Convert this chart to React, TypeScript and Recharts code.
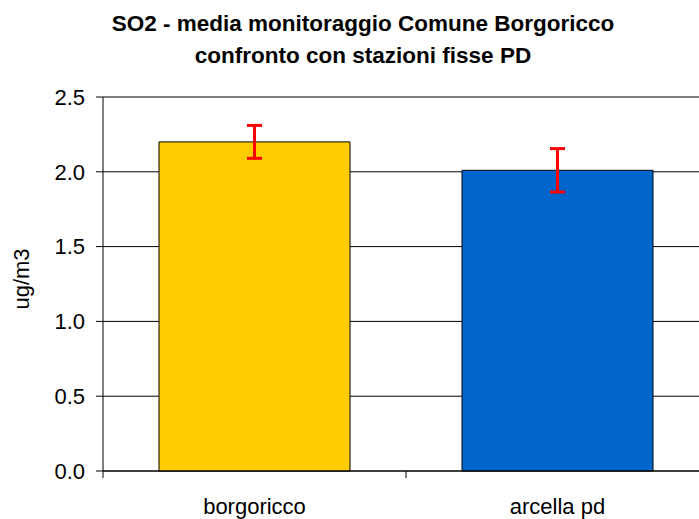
import { BarChart, Bar, Cell, XAxis, YAxis, CartesianGrid, ErrorBar } from "recharts";

const stations = ["borgoricco", "arcella pd"];
const means = [2.2, 2.01];
const errors = [0.11, 0.145];
const yTicks = [0, 0.5, 1.0, 1.5, 2.0, 2.5];

const COLORS = ["#FFCC00", "#0066CC"];
const FONT = "'Liberation Sans', Arial, sans-serif";

const TICK_SIZE = 7;
const X_TICK_MARGIN = 20;

const chartData = stations.map((name, i) => ({
  name,
  value: means[i],
  err: errors[i],
}));

// category label plus a small tick at the left edge of each category band
function CategoryTick(props: any) {
  const { x, y, payload } = props;
  const half = payload?.offset ?? 0;
  const axisY = y - X_TICK_MARGIN - TICK_SIZE;
  return (
    <g>
      <line
        x1={x - half}
        x2={x - half}
        y1={axisY}
        y2={axisY + TICK_SIZE}
        stroke="#000"
      />
      <text
        x={x}
        y={y}
        dy="0.71em"
        textAnchor="middle"
        fill="#000"
        fontSize={22}
        fontFamily={FONT}
      >
        {payload.value}
      </text>
    </g>
  );
}

export default function App() {
  return (
    <div
      style={{
        position: "absolute",
        left: 0,
        top: 0,
        width: 699,
        height: 519,
        overflow: "hidden",
        background: "#fff",
      }}
    >
      <BarChart
        width={720}
        height={519}
        data={chartData}
        margin={{ top: 97, right: 11, bottom: 0, left: 0 }}
      >
        <CartesianGrid vertical={false} stroke="#000" />
        <XAxis
          dataKey="name"
          height={48}
          axisLine={{ stroke: "#000" }}
          tickLine={false}
          tickSize={TICK_SIZE}
          tickMargin={X_TICK_MARGIN}
          tick={<CategoryTick />}
          interval={0}
        />
        <YAxis
          type="number"
          domain={[0, 2.5]}
          ticks={yTicks}
          width={103}
          axisLine={{ stroke: "#000" }}
          tickLine={{ stroke: "#000" }}
          tickSize={TICK_SIZE}
          tickMargin={11}
          tickFormatter={(v: number) => v.toFixed(1)}
          tick={{ fill: "#000", fontSize: 22, fontFamily: FONT }}
        />
        <Bar
          dataKey="value"
          barSize={191}
          stroke="#000"
          strokeWidth={1}
          isAnimationActive={false}
        >
          {chartData.map((_, i) => (
            <Cell key={i} fill={COLORS[i % COLORS.length]} />
          ))}
          <ErrorBar
            dataKey="err"
            direction="y"
            width={7.5}
            stroke="#FF0000"
            strokeWidth={3}
            isAnimationActive={false}
          />
        </Bar>
      </BarChart>

      <svg
        width={699}
        height={519}
        style={{ position: "absolute", left: 0, top: 0, pointerEvents: "none" }}
      >
        <text
          x={363}
          y={31}
          textAnchor="middle"
          fontSize={22.5}
          fontWeight="bold"
          fontFamily={FONT}
          fill="#000"
        >
          SO2 - media monitoraggio Comune Borgoricco
        </text>
        <text
          x={363}
          y={63}
          textAnchor="middle"
          fontSize={22.5}
          fontWeight="bold"
          fontFamily={FONT}
          fill="#000"
        >
          confronto con stazioni fisse PD
        </text>
        <text
          x={0}
          y={0}
          transform="translate(29, 279) rotate(-90)"
          textAnchor="middle"
          fontSize={22}
          fontFamily={FONT}
          fill="#000"
        >
          ug/m3
        </text>
      </svg>
    </div>
  );
}
